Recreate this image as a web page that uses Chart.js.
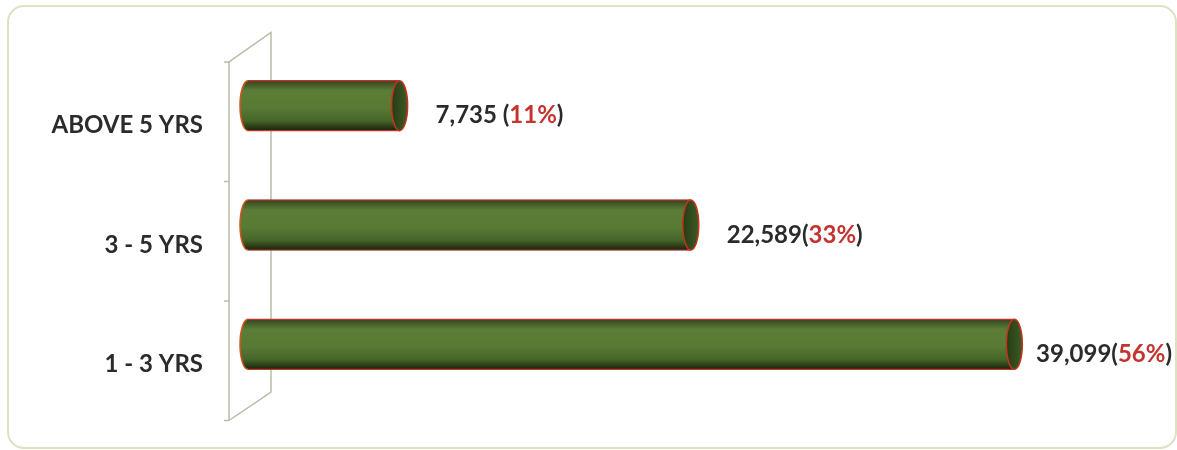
<!DOCTYPE html>
<html>
<head>
<meta charset="utf-8">
<script src="https://cdn.jsdelivr.net/npm/chart.js@4/dist/chart.umd.min.js"></script>
<style>
    html, body { margin: 0; padding: 0; background: #ffffff; }
    #wrap { width: 1177px; height: 450px; position: relative; }
</style>
</head>
<body>
<div id="wrap"><canvas id="ageChart"></canvas></div>
<script>
/* chart data */

const categories = ['ABOVE 5 YRS', '3 - 5 YRS', '1 - 3 YRS'];
const counts = [7735, 22589, 39099];
const shares = ['11%', '33%', '56%'];
const separators = [' ', '', ''];

const axisMax = 45000;
const barSize = 50;
const capRx = 8;

/* cylinder fill for one bar, built from the category scale */

function cylinderFill(context) {
    const chart = context.chart;
    const yScale = chart.scales.y;
    if (!yScale || !chart.chartArea) return '#587a33';
    const cy = yScale.getPixelForValue(context.dataIndex);
    const g = chart.ctx.createLinearGradient(0, cy - barSize / 2, 0, cy + barSize / 2);
    g.addColorStop(0, '#4a3a1e');
    g.addColorStop(0.06, '#3f5626');
    g.addColorStop(0.2, '#5c7d37');
    g.addColorStop(0.55, '#587a33');
    g.addColorStop(0.8, '#46652a');
    g.addColorStop(0.93, '#2a3a16');
    g.addColorStop(1, '#1a220c');
    return g;
}

/* rounded frame and 3D wall behind the bars */

const backdrop = {
    id: 'backdrop',
    beforeDraw(chart) {
        const ctx = chart.ctx;
        ctx.save();
        ctx.strokeStyle = '#dde3c2';
        ctx.lineWidth = 2;
        ctx.beginPath();
        ctx.roundRect(8, 6, 1168, 442, 16);
        ctx.stroke();
        ctx.restore();
    },
    beforeDatasetsDraw(chart) {
        const ctx = chart.ctx;
        const ca = chart.chartArea;
        const fx = ca.left - 19, bx = ca.left + 23;
        const fTop = ca.top + 16, fBot = ca.bottom + 16.5;
        const bTop = ca.top - 13.5, bBot = ca.bottom - 12;
        ctx.save();
        ctx.strokeStyle = '#b9bca6';
        ctx.lineWidth = 1.5;
        ctx.beginPath();
        ctx.moveTo(fx, fBot);
        ctx.lineTo(fx, fTop);
        ctx.lineTo(bx, bTop);
        ctx.lineTo(bx, bBot);
        ctx.lineTo(fx, fBot);
        const band = (fBot - fTop) / categories.length;
        for (let i = 0; i <= categories.length; i++) {
            const ty = fTop + band * i;
            ctx.moveTo(fx - 5, ty);
            ctx.lineTo(fx, ty);
        }
        ctx.stroke();
        ctx.restore();
    },
    afterDatasetsDraw(chart) {
        const ctx = chart.ctx;
        const meta = chart.getDatasetMeta(0);
        ctx.save();
        meta.data.forEach(function (bar, i) {
            const p = bar.getProps(['x', 'y', 'base', 'height'], true);
            const ry = p.height / 2;

            // left rounded end
            ctx.beginPath();
            ctx.ellipse(p.base, p.y, capRx, ry, 0, Math.PI / 2, Math.PI * 1.5);
            ctx.closePath();
            ctx.fillStyle = cylinderFill({ chart: chart, dataIndex: i });
            ctx.fill();
            ctx.strokeStyle = '#d2541f';
            ctx.lineWidth = 1.5;
            ctx.beginPath();
            ctx.ellipse(p.base, p.y, capRx, ry, 0, Math.PI / 2, Math.PI * 1.5);
            ctx.stroke();

            // top and bottom edges
            ctx.strokeStyle = '#b8372a';
            ctx.lineWidth = 1.2;
            ctx.beginPath();
            ctx.moveTo(p.base, p.y - ry);
            ctx.lineTo(p.x, p.y - ry);
            ctx.moveTo(p.base, p.y + ry);
            ctx.lineTo(p.x, p.y + ry);
            ctx.stroke();

            // right open end
            ctx.beginPath();
            ctx.ellipse(p.x, p.y, capRx, ry, 0, 0, Math.PI * 2);
            const cg = ctx.createLinearGradient(p.x - capRx, 0, p.x + capRx, 0);
            cg.addColorStop(0, '#263c14');
            cg.addColorStop(1, '#3d5a26');
            ctx.fillStyle = cg;
            ctx.fill();
            ctx.strokeStyle = '#c8321f';
            ctx.lineWidth = 1.5;
            ctx.stroke();

            // value label
            ctx.font = 'bold 24px Lato';
            ctx.textBaseline = 'middle';
            const main = counts[i].toLocaleString('en-US') + separators[i] + '(';
            const pct = shares[i];
            const w = ctx.measureText(main).width + ctx.measureText(pct).width + ctx.measureText(')').width;
            let lx = p.x + capRx + 28;
            if (lx + w > chart.width - 5) lx = chart.width - 5 - w;
            const ly = p.y + 10;
            ctx.textAlign = 'left';
            ctx.fillStyle = '#2b2b2b';
            ctx.fillText(main, lx, ly);
            lx += ctx.measureText(main).width;
            ctx.fillStyle = '#c3342f';
            ctx.fillText(pct, lx, ly);
            lx += ctx.measureText(pct).width;
            ctx.fillStyle = '#2b2b2b';
            ctx.fillText(')', lx, ly);
        });
        ctx.restore();
    }
};

/* draw chart */

const ctx = document.getElementById('ageChart').getContext('2d');
const ageChart = new Chart(ctx, {
    type: 'bar',
    data: {
        labels: categories,
        datasets: [{
            data: counts,
            backgroundColor: cylinderFill,
            borderWidth: 0,
            barThickness: barSize
        }]
    },
    options: {
        indexAxis: 'y',
        responsive: true,
        maintainAspectRatio: false,
        animation: false,
        layout: {
            padding: { top: 46, bottom: 46, left: 0, right: 47 }
        },
        plugins: {
            legend: { display: false },
            tooltip: { enabled: false }
        },
        scales: {
            x: {
                display: false,
                min: 0,
                max: axisMax
            },
            y: {
                afterFit: function (scale) {
                    scale.width = 248;
                    scale.paddingTop = 0;
                    scale.paddingBottom = 0;
                },
                grid: { display: false, drawTicks: false },
                border: { display: false },
                ticks: {
                    padding: 45,
                    labelOffset: 20,
                    color: '#2b2b2b',
                    font: { family: 'Lato', size: 24, weight: 'bold' }
                }
            }
        }
    },
    plugins: [backdrop]
});
</script>
</body>
</html>
